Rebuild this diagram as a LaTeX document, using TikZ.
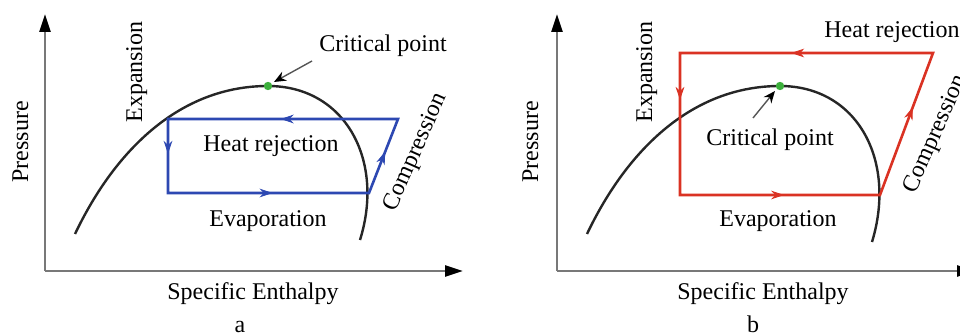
\documentclass[tikz,border=0pt]{standalone}
\usepackage{fontspec}
\setmainfont{Liberation Serif}
\usetikzlibrary{arrows.meta,decorations.markings}
\definecolor{cycblue}{RGB}{45,72,178}
\definecolor{cycred}{RGB}{218,50,35}
\definecolor{domegray}{RGB}{38,38,38}
\definecolor{axisgray}{RGB}{120,120,120}
\definecolor{ptgreen}{RGB}{60,175,60}
\definecolor{leadgray}{RGB}{85,85,85}
\begin{document}
\begin{tikzpicture}[x=0.5pt,y=-0.5pt,
  lbl/.style={font=\fontsize{12}{14}\selectfont, inner sep=0pt, text=black},
  axisline/.style={draw=axisgray, line width=1.2pt, -{Triangle[length=9pt,width=5.5pt,color=black]}},
  domeline/.style={draw=domegray, line width=1.2pt},
  cycleline/.style={line width=1.3pt, line join=miter},
  midarrow/.style={decoration={markings, mark=at position #1 with {\arrow{Stealth[length=6.5pt,width=4.4pt]}}}, postaction=decorate},
  leadline/.style={draw=leadgray, line width=0.7pt, -{Stealth[length=6pt,width=5pt,color=black]}},
  cpdot/.style={circle, fill=ptgreen, inner sep=0pt, minimum size=4.2pt}]
\clip (0,0) rectangle (960,336);
% ---------------- panel a ----------------
\coordinate (Oa) at (45,271);
\coordinate (Ya) at (45,14);
\coordinate (Xa) at (463,271);
\draw[axisline] (Oa) -- (Ya);
\draw[axisline] (Oa) -- (Xa);
\coordinate (dLa) at (75,234);
\coordinate (dPa) at (268,86);
\coordinate (dRa) at (360,240);
\draw[domeline] (dLa) .. controls (115,150) and (180,86) .. (dPa) .. controls (345,86) and (385,160) .. (dRa);
\coordinate (TLa) at (168,119);
\coordinate (TRa) at (398,119);
\coordinate (BRa) at (369,193);
\coordinate (BLa) at (168,193);
\draw[cycleline, draw=cycblue] (TRa) -- (TLa) -- (BLa) -- (BRa) -- cycle;
\path[color=cycblue, midarrow=0.51] (TRa) -- (TLa);
\path[color=cycblue, midarrow=0.47] (TLa) -- (BLa);
\path[color=cycblue, midarrow=0.52] (BLa) -- (BRa);
\path[color=cycblue, midarrow=0.56] (BRa) -- (TRa);
\node[cpdot] (cpa) at (dPa) {};
\coordinate (la1) at (312,61);
\coordinate (la2) at (274,82);
\draw[leadline] (la1) -- (la2);
\node[lbl, anchor=base] (tcpa) at (383,52) {Critical point};
\node[lbl, anchor=base, rotate=90] (texa) at (142,72) {Expansion};
\node[lbl, anchor=base, rotate=90] (tpra) at (28,142) {Pressure};
\node[lbl, anchor=base] (thra) at (271,152) {Heat rejection};
\node[lbl, anchor=base] (teva) at (268,227) {Evaporation};
\node[lbl, rotate=66] (tcoa) at (416,152) {Compression};
\node[lbl, anchor=base] (tsea) at (253,300) {Specific Enthalpy};
\node[lbl, anchor=base] (tla) at (240,333) {a};
% ---------------- panel b ----------------
\coordinate (Ob) at (557,271);
\coordinate (Yb) at (557,14);
\coordinate (Xb) at (975,271);
\draw[axisline] (Ob) -- (Yb);
\draw[axisline] (Ob) -- (Xb);
\coordinate (dLb) at (587,234);
\coordinate (dPb) at (780,86);
\coordinate (dRb) at (872,242);
\draw[domeline] (dLb) .. controls (627,150) and (692,86) .. (dPb) .. controls (857,86) and (897,160) .. (dRb);
\coordinate (TLb) at (680,53);
\coordinate (TRb) at (933,53);
\coordinate (BRb) at (880,195);
\coordinate (BLb) at (680,195);
\draw[cycleline, draw=cycred] (TRb) -- (TLb) -- (BLb) -- (BRb) -- cycle;
\path[color=cycred, midarrow=0.56] (TRb) -- (TLb);
\path[color=cycred, midarrow=0.33] (TLb) -- (BLb);
\path[color=cycred, midarrow=0.52] (BLb) -- (BRb);
\path[color=cycred, midarrow=0.62] (BRb) -- (TRb);
\node[cpdot] (cpb) at (dPb) {};
\coordinate (lb1) at (753,118);
\coordinate (lb2) at (775,91);
\draw[leadline] (lb1) -- (lb2);
\node[lbl, anchor=base] (tcpb) at (770,146) {Critical point};
\node[lbl, anchor=base, rotate=90] (texb) at (652,72) {Expansion};
\node[lbl, anchor=base, rotate=90] (tprb) at (538,142) {Pressure};
\node[lbl, anchor=base] (thrb) at (892,38) {Heat rejection};
\node[lbl, anchor=base] (tevb) at (778,227) {Evaporation};
\node[lbl, rotate=66] (tcob) at (936,134) {Compression};
\node[lbl, anchor=base] (tseb) at (763,300) {Specific Enthalpy};
\node[lbl, anchor=base] (tlb) at (753,333) {b};
\end{tikzpicture}
\end{document}
